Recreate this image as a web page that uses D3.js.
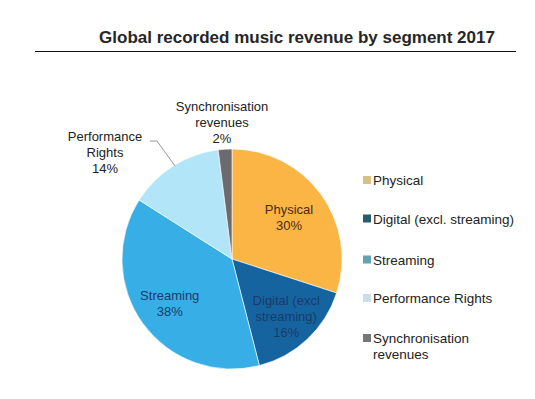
<!DOCTYPE html>
<html>
<head>
  <meta charset="utf-8">
  <title>Global recorded music revenue</title>
  <script src="https://d3js.org/d3.v7.min.js"></script>
  <style>
    body {
      margin: 0;
      background: #fff;
      font-family: "Liberation Sans", Arial, Helvetica, sans-serif;
    }
    .title {
      font-size: 17px;
      font-weight: bold;
      fill: #262626;
    }
    .lbl {
      font-size: 13px;
      fill: #222;
    }
    .legend text {
      font-size: 13.5px;
      fill: #222;
    }
  </style>
</head>
<body>
  <div id="chart"></div>

  <script>
    // data
    const segments = ["Physical", "Digital (excl. streaming)", "Streaming", "Performance Rights", "Synchronisation revenues"]
    const shares = [30, 16, 38, 14, 2]
    const sliceColors = ["#fbb545", "#15649f", "#37afe6", "#b3e5f8", "#6b6b6f"]
    const legendColors = ["#d8c184", "#2a5a70", "#63a3b4", "#c8e0e4", "#777777"]
    const labelColors = ["#4a2a10", "#1b3a6b", "#1b3a6b", "#222", "#222"]
    // label text lines (the ones inside/outside pie)
    const sliceLabels = [
      ["Physical", "30%"],
      ["Digital (excl", "streaming)", "16%"],
      ["Streaming", "38%"],
      ["Performance", "Rights", "14%"],
      ["Synchronisation", "revenues", "2%"]
    ]
    const legendLines = [["Physical"], ["Digital (excl. streaming)"], ["Streaming"], ["Performance Rights"], ["Synchronisation", "revenues"]]

    const width = 535, height = 399
    const svg = d3.select("#chart").append("svg")
      .attr("width", width)
      .attr("height", height)

    //Top Title
    svg.append("text")
      .attr("class", "title")
      .attr("x", 297)
      .attr("y", 43)
      .attr("text-anchor", "middle")
      .text("Global recorded music revenue by segment 2017")

    svg.append("line")
      .attr("x1", 35).attr("x2", 516)
      .attr("y1", 51.5).attr("y2", 51.5)
      .attr("stroke", "#111")
      .attr("stroke-width", 1)

    // pie
    const cx = 232, cy = 259, radius = 110
    const data = segments.map((s, i) => ({ name: s, value: shares[i], i: i }))

    const pie = d3.pie().sort(null).value(d => d.value)
    const arcs = pie(data)
    const arc = d3.arc().innerRadius(0).outerRadius(radius)

    const chart = svg.append("g")
      .attr("transform", `translate(${cx},${cy})`)

    chart.selectAll("path")
      .data(arcs)
      .enter()
      .append("path")
      .attr("d", arc)
      .attr("fill", d => sliceColors[d.data.i])
      .attr("stroke", "#fff")
      .attr("stroke-width", 0.6)

    // label positions: inside for big slices, outside for small ones
    const lineH = 16
    const outsidePos = {
      3: [-127, -122],
      4: [-10, -152]
    }
    const insideR = { 0: 0.64, 1: 0.72, 2: 0.7 }

    arcs.forEach(a => {
      const i = a.data.i
      const lines = sliceLabels[i]
      let x, y
      if (outsidePos[i]) {
        x = outsidePos[i][0]
        y = outsidePos[i][1]
      } else {
        const c = d3.arc().innerRadius(radius * insideR[i]).outerRadius(radius * insideR[i]).centroid(a)
        x = c[0]
        y = c[1] - (lines.length - 1) * lineH / 2
      }
      const t = chart.append("text")
        .attr("class", "lbl")
        .attr("text-anchor", "middle")
        .style("fill", labelColors[i])
      lines.forEach((l, k) => {
        t.append("tspan")
          .attr("x", x)
          .attr("y", y + k * lineH + 4)
          .text(l)
      })
    })

    // leader line for Performance Rights
    chart.append("polyline")
      .attr("points", `${-82},${-118} ${-75},${-118} ${-57},${-93}`)
      .attr("fill", "none")
      .attr("stroke", "#999")
      .attr("stroke-width", 1)

    // legend
    const legend = svg.append("g")
      .attr("class", "legend")
      .attr("transform", "translate(363,176)")
    const legendY = [0, 38.5, 79.5, 118, 158]

    legend.selectAll("rect")
      .data(legendLines)
      .enter()
      .append("rect")
      .attr("x", 0)
      .attr("y", (d, i) => legendY[i])
      .attr("width", 8)
      .attr("height", 8)
      .attr("fill", (d, i) => legendColors[i])

    legend.selectAll("text")
      .data(legendLines)
      .enter()
      .append("text")
      .each(function(d, i) {
        d.forEach((l, k) => {
          d3.select(this).append("tspan")
            .attr("x", 10)
            .attr("y", legendY[i] + 9 + k * 16)
            .text(l)
        })
      })
  </script>
</body>
</html>
